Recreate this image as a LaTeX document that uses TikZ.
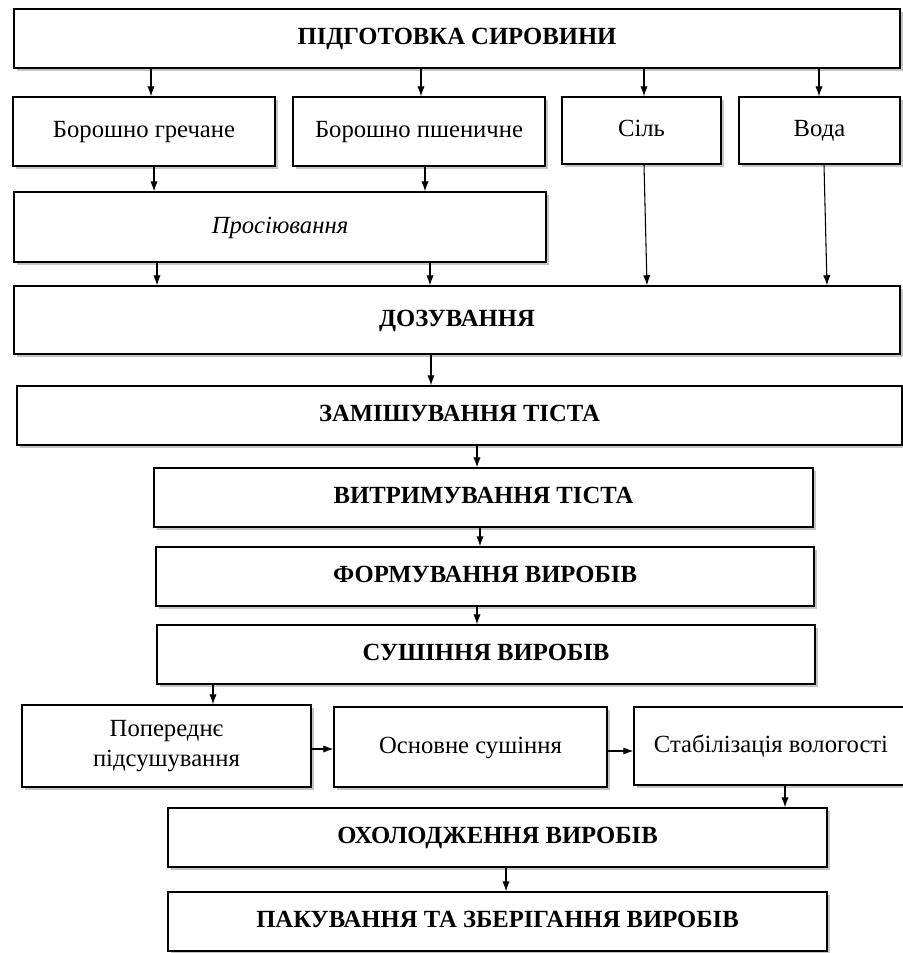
\documentclass[tikz,border=0pt]{standalone}
\usepackage{fontspec}
\setmainfont{Liberation Serif}
\usetikzlibrary{shadows,arrows.meta}
\begin{document}
\begin{tikzpicture}[x=0.75pt,y=-0.75pt,
  bx/.style 2 args={draw=black,line width=1.1pt,fill=white,rectangle,inner sep=0pt,
    minimum width=#1*0.75pt,minimum height=#2*0.75pt,align=center,
    text height=13pt,text depth=4pt,
    font=\fontsize{18.5}{22.5}\selectfont,
    drop shadow={shadow xshift=2.5pt,shadow yshift=-2.5pt,fill=black!50,opacity=0.45}},
  multi/.style={text height=,text depth=},
  arr/.style={draw=black,line width=0.8pt,-{Latex[length=7.5pt,width=5.5pt]}}]
\useasboundingbox (0,0) rectangle (903,953);
\fill[white] (0,0) rectangle (903,953);
% boxes
\node[bx={886}{59}] (prep) at (457,38.5) {\textbf{ПІДГОТОВКА СИРОВИНИ}};
\node[bx={262}{69}] (bg) at (144,131.5) {Борошно гречане};
\node[bx={252}{69}] (bp) at (419,131.5) {Борошно пшеничне};
\node[bx={159}{67}] (sil) at (641.5,130.5) {Сіль};
\node[bx={161}{67}] (voda) at (819.5,130.5) {Вода};
\node[bx={532}{70}] (pros) at (280,227) {\textit{Просіювання}};
\node[bx={886}{68}] (doz) at (457,320) {\textbf{ДОЗУВАННЯ}};
\node[bx={885}{59}] (zam) at (459.5,415.5) {\textbf{ЗАМІШУВАННЯ ТІСТА}};
\node[bx={659}{59}] (vyt) at (483.5,497.5) {\textbf{ВИТРИМУВАННЯ ТІСТА}};
\node[bx={658}{59}] (form) at (485,576.5) {\textbf{ФОРМУВАННЯ ВИРОБІВ}};
\node[bx={658}{59}] (sush) at (486,654.5) {\textbf{СУШІННЯ ВИРОБІВ}};
\node[bx={289}{82},multi] (pop) at (166.5,746) {Попереднє\\підсушування};
\node[bx={273}{80}] (osn) at (470.5,747) {Основне сушіння};
\node[bx={274}{78}] (stab) at (771,746) {Стабілізація вологості};
\node[bx={659}{59}] (okh) at (497.5,837.5) {\textbf{ОХОЛОДЖЕННЯ ВИРОБІВ}};
\node[bx={659}{59}] (pak) at (497.5,921.5) {\textbf{ПАКУВАННЯ ТА ЗБЕРІГАННЯ ВИРОБІВ}};
% arrows
\draw[arr] (prep.south -| 151,0) -- (bg.north -| 151,0);
\draw[arr] (prep.south -| 421,0) -- (bp.north -| 421,0);
\draw[arr] (prep.south -| 644,0) -- (sil.north -| 644,0);
\draw[arr] (prep.south -| 819,0) -- (voda.north -| 819,0);
\draw[arr] (bg.south -| 154,0) -- (pros.north -| 154,0);
\draw[arr] (bp.south -| 425,0) -- (pros.north -| 425,0);
\draw[arr] (pros.south -| 157,0) -- (doz.north -| 157,0);
\draw[arr] (pros.south -| 430,0) -- (doz.north -| 430,0);
\draw[arr] (sil.south -| 644,0) -- (doz.north -| 647,0);
\draw[arr] (voda.south -| 824,0) -- (doz.north -| 827,0);
\draw[arr] (doz.south -| 431,0) -- (zam.north -| 431,0);
\draw[arr] (zam.south -| 477,0) -- (vyt.north -| 477,0);
\draw[arr] (vyt.south -| 480,0) -- (form.north -| 480,0);
\draw[arr] (form.south -| 477,0) -- (sush.north -| 477,0);
\draw[arr] (sush.south -| 213,0) -- (pop.north -| 213,0);
\draw[arr] (pop.east |- 0,749) -- (osn.west |- 0,749);
\draw[arr] (osn.east |- 0,751) -- (stab.west |- 0,751);
\draw[arr] (stab.south -| 785,0) -- (okh.north -| 785,0);
\draw[arr] (okh.south -| 506,0) -- (pak.north -| 506,0);
\end{tikzpicture}
\end{document}
